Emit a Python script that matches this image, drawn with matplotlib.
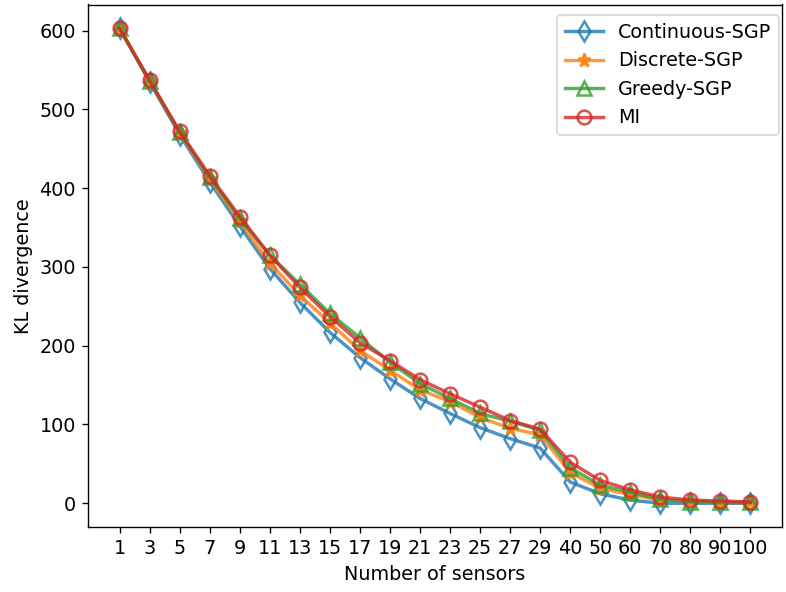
import matplotlib
matplotlib.use("Agg")
import matplotlib.pyplot as plt
import numpy as np

sensors = ["1", "3", "5", "7", "9", "11", "13", "15", "17", "19", "21", "23", "25", "27", "29",
           "40", "50", "60", "70", "80", "90", "100"]
continuous = [603, 535, 468, 408, 352, 298, 255, 217, 185, 158, 133, 114, 96, 82, 70,
              27, 12, 4, 0, 0, 0, 0]
discrete = [603, 536, 470, 412, 358, 305, 264, 229, 194, 169, 144, 129, 109, 95, 87,
            39, 19, 11, 4, 3, 1, 1]
greedy = [603, 536, 471, 414, 362, 315, 278, 241, 210, 179, 152, 133, 114, 104, 93,
          45, 23, 14, 5, 2, 1, 1]
mi = [603, 537, 472, 416, 364, 315, 274, 237, 204, 181, 157, 139, 122, 105, 94,
      52, 29, 17, 8, 4, 3, 1.5]

plt.rcParams['font.size'] = 11.2
W, H = 786, 592
fig = plt.figure(figsize=(W/123, H/123), dpi=123)
ax = fig.add_axes([88/W, 1-527/H, (782-88)/W, (527-4.5)/H])
x = np.arange(len(sensors))
ax.plot(x, continuous, marker='d', mfc='none', ms=8, mew=1.5, lw=2, alpha=0.8, label='Continuous-SGP')
ax.plot(x, discrete, marker='*', ms=8, mew=1.5, lw=2, alpha=0.8, label='Discrete-SGP')
ax.plot(x, greedy, marker='^', mfc='none', ms=8, mew=1.5, lw=2, alpha=0.8, label='Greedy-SGP')
ax.plot(x, mi, marker='o', mfc='none', ms=8, mew=1.5, lw=2, alpha=0.8, label='MI')
ax.set_xticks(x)
ax.set_xticklabels(sensors)
ax.set_xlabel("Number of sensors")
ax.set_ylabel("KL divergence")
ax.legend(loc='upper right', bbox_to_anchor=(779/W, 1-15/H), bbox_transform=fig.transFigure,
          borderaxespad=0)
fig.savefig("out.png", dpi=123)
